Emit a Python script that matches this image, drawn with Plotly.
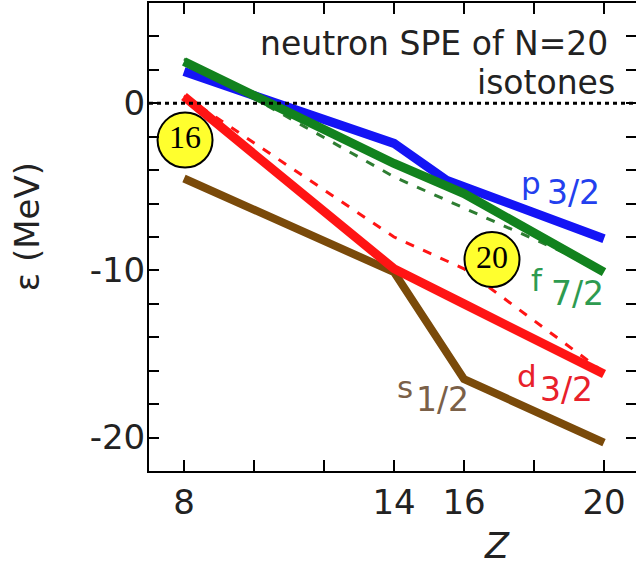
import plotly.graph_objects as go

# ---- data ----
z_p32 = [8, 14, 15.5, 20]
e_p32 = [1.9, -2.4, -4.6, -8.1]

z_f72 = [8, 14, 16, 20]
e_f72 = [2.5, -3.6, -5.4, -10.1]

z_d32 = [8, 14, 16, 20]
e_d32 = [0.4, -9.9, -12.0, -16.2]

z_s12 = [8, 14, 16, 20]
e_s12 = [-4.5, -10.1, -16.5, -20.3]

z_f72_dash = [8, 14, 20]
e_f72_dash = [2.65, -4.4, -10.0]

z_d32_dash = [8, 14, 16, 20]
e_d32_dash = [0.45, -8.0, -9.9, -16.1]

magic_labels = ["16", "20"]
magic_z = [8.03, 16.8]
magic_e = [-2.2, -9.35]

z_tick_vals = [8, 10, 12, 14, 16, 18, 20]
z_tick_text = ["8", "", "", "14", "16", "", "20"]
e_tick_vals = [4, 2, 0, -2, -4, -6, -8, -10, -12, -14, -16, -18, -20]
e_tick_text = ["", "", "0", "", "", "", "", "-10", "", "", "", "", "-20"]

# orbital labels: main letter and subscript part
orb_letters = ["p", "f", "d", "s"]
orb_letter_z = [17.91, 18.09, 17.80, 14.31]
orb_letter_e = [-4.75, -10.6, -16.3, -17.0]
orb_subs = ["3/2", "7/2", "3/2", "1/2"]
orb_sub_z = [19.13, 19.24, 18.93, 15.39]
orb_sub_e = [-5.35, -11.4, -17.1, -17.75]
orb_text_colors = ["#2340EE", "#2E9B50", "#E8202A", "#7A6048"]

title_lines = ["neutron SPE of N=20", "isotones"]
title_z = [20.17, 20.37]
title_e = [3.55, 1.27]

FONT = "DejaVu Sans"
BLUE = "#1414F5"
GREEN = "#12821E"
RED = "#FF1414"
BROWN = "#7A4A0A"

fig = go.Figure()

fig.add_hline(y=0, line=dict(color="black", width=3, dash="4px,4px"))

fig.add_trace(go.Scatter(x=z_f72_dash, y=e_f72_dash, mode="lines",
                         line=dict(color="#2E7D32", width=3, dash="9px,10px")))
fig.add_trace(go.Scatter(x=z_d32_dash, y=e_d32_dash, mode="lines",
                         line=dict(color=RED, width=3, dash="9px,10px")))

fig.add_trace(go.Scatter(x=z_s12, y=e_s12, mode="lines",
                         line=dict(color=BROWN, width=8)))
fig.add_trace(go.Scatter(x=z_d32, y=e_d32, mode="lines",
                         line=dict(color=RED, width=9)))
fig.add_trace(go.Scatter(x=z_p32, y=e_p32, mode="lines",
                         line=dict(color=BLUE, width=9)))
fig.add_trace(go.Scatter(x=z_f72, y=e_f72, mode="lines",
                         line=dict(color=GREEN, width=9)))

fig.add_trace(go.Scatter(
    x=magic_z, y=magic_e, mode="markers+text", text=magic_labels,
    textposition="middle center",
    textfont=dict(family="Liberation Serif", size=32, color="black"),
    marker=dict(size=55, color="#FFFF2E", line=dict(color="black", width=2)),
))

for lt, lz, le, st, sz, se, c in zip(orb_letters, orb_letter_z, orb_letter_e,
                                      orb_subs, orb_sub_z, orb_sub_e, orb_text_colors):
    fig.add_annotation(x=lz, y=le, text=lt, showarrow=False,
                       font=dict(family=FONT, size=31, color=c),
                       xanchor="center", yanchor="middle")
    fig.add_annotation(x=sz, y=se, text=st, showarrow=False,
                       font=dict(family=FONT, size=33, color=c),
                       xanchor="center", yanchor="middle")

for t, tz, te in zip(title_lines, title_z, title_e):
    fig.add_annotation(x=tz, y=te, text=t, showarrow=False,
                       font=dict(family=FONT, size=33, color="#222222"),
                       xanchor="right", yanchor="middle")

fig.add_annotation(xref="paper", yref="paper", x=-0.2505, y=0.521,
                   text="ε (MeV)", textangle=-90, showarrow=False,
                   font=dict(family=FONT, size=34, color="#222222"),
                   xanchor="center", yanchor="middle")
fig.add_annotation(x=16.94, yref="paper", y=-0.160, text="<i>Z</i>",
                   showarrow=False,
                   font=dict(family=FONT, size=35, color="#222222"),
                   xanchor="center", yanchor="middle")

fig.update_layout(
    width=636, height=566,
    margin=dict(l=149, r=0, t=3, b=95, autoexpand=False),
    paper_bgcolor="white", plot_bgcolor="white",
    showlegend=False,
    font=dict(family=FONT, color="#222222"),
)
fig.update_xaxes(range=[7, 20.914], tickvals=z_tick_vals, ticktext=z_tick_text,
                 ticks="inside", ticklen=11, tickwidth=2, tickcolor="black",
                 showline=True, linecolor="black", linewidth=2, mirror="ticks",
                 showgrid=False, zeroline=False, automargin=False,
                 tickfont=dict(family=FONT, size=34, color="#222222"))
fig.update_yaxes(range=[-22, 6], tickvals=e_tick_vals, ticktext=e_tick_text,
                 ticks="inside", ticklen=10, tickwidth=2, tickcolor="black",
                 showline=True, linecolor="black", linewidth=2, mirror="ticks",
                 showgrid=False, zeroline=False, automargin=False,
                 ticklabelstandoff=-5,
                 tickfont=dict(family=FONT, size=34, color="#222222"))

fig.write_html("out.html", config={"displayModeBar": False},
               post_script="document.body.style.margin='0px';document.body.style.overflow='hidden';")
